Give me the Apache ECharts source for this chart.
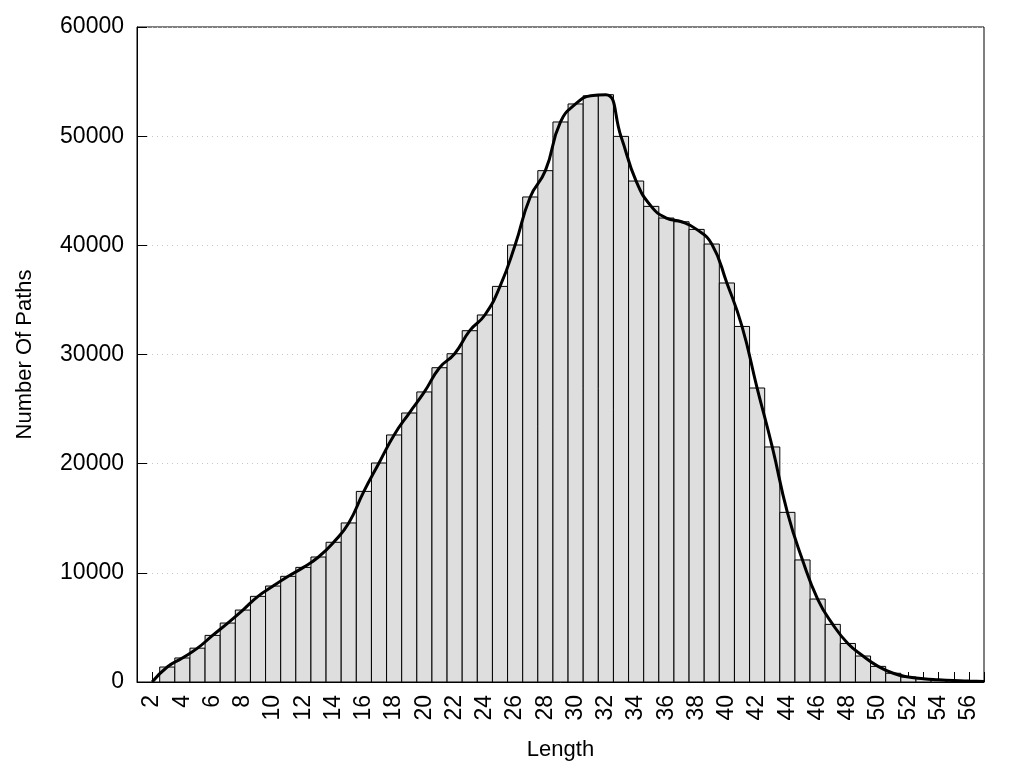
<!DOCTYPE html>
<html>
<head>
<meta charset="utf-8">
<style>
html, body { margin: 0; padding: 0; background: #fff; }
#chart { width: 1024px; height: 768px; }
</style>
<script src="https://cdn.jsdelivr.net/npm/echarts@6/dist/echarts.min.js"></script>
</head>
<body>
<div id="chart"></div>
<script>
// Path lengths (x) and number of paths (y)
const lengths = [2,3,4,5,6,7,8,9,10,11,12,13,14,15,16,17,18,19,20,21,22,23,24,25,26,27,28,29,30,31,32,33,34,35,36,37,38,39,40,41,42,43,44,45,46,47,48,49,50,51,52,53,54,55,56,57];
const counts = [0,1370,2200,3100,4270,5400,6590,7845,8790,9680,10500,11450,12800,14570,17460,20060,22630,24640,26570,28790,30070,32180,33620,36240,40030,44430,46840,51300,52950,53700,53800,49980,45890,43570,42500,42160,41460,40120,36550,32570,26930,21530,15540,11180,7600,5280,3530,2380,1430,800,460,300,210,140,90,50];
const yTicks = [0,10000,20000,30000,40000,50000,60000];

const FONT = 'Liberation Sans, Arial, sans-serif';
const points = lengths.map((l, i) => [l, counts[i]]);

const chart = echarts.init(document.getElementById('chart'));
chart.setOption({
  animation: false,
  backgroundColor: '#fff',
  grid: { left: 137, right: 40, top: 27, bottom: 86, show: true, borderColor: '#000', borderWidth: 1, backgroundColor: 'transparent' },
  xAxis: {
    type: 'value', min: 1, max: 57, interval: 1,
    name: 'Length', nameLocation: 'middle', nameGap: 57,
    nameTextStyle: { fontFamily: FONT, fontSize: 22, color: '#000' },
    axisLine: { show: true, lineStyle: { color: '#000', width: 1 } },
    axisTick: { show: true, inside: true, length: 10, lineStyle: { color: '#000' } },
    axisLabel: {
      rotate: 90, margin: 13, fontFamily: FONT, fontSize: 23, color: '#000',
      formatter: v => (v % 2 === 0 ? String(v) : '')
    },
    splitLine: { show: false }
  },
  yAxis: {
    type: 'value', min: yTicks[0], max: yTicks[yTicks.length - 1], interval: 10000,
    name: 'Number Of Paths', nameLocation: 'middle', nameGap: 101,
    nameTextStyle: { fontFamily: FONT, fontSize: 22, color: '#000' },
    axisLine: { show: true, lineStyle: { color: '#000', width: 1 } },
    axisTick: { show: true, inside: true, length: 10, lineStyle: { color: '#000' } },
    axisLabel: { margin: 13, fontFamily: FONT, fontSize: 23, color: '#000', formatter: v => String(v) },
    splitLine: { show: true, lineStyle: { color: '#c8c8c8', type: [1, 4], width: 1 } }
  },
  series: [
    {
      type: 'custom',
      clip: true,
      data: points.filter(p => p[1] > 0),
      renderItem: function (params, api) {
        const x = api.value(0), v = api.value(1);
        const p0 = api.coord([x - 0.5, 0]);
        const p1 = api.coord([Math.min(x + 0.5, 57), v]);
        return {
          type: 'rect',
          shape: { x: p0[0], y: p1[1], width: p1[0] - p0[0], height: p0[1] - p1[1] },
          style: { fill: '#dedede', stroke: '#000', lineWidth: 1 }
        };
      },
      z: 2
    },
    {
      type: 'line',
      data: points,
      smooth: 0.5,
      showSymbol: false,
      lineStyle: { color: '#000', width: 3 },
      z: 3
    }
  ]
});
</script>
</body>
</html>
